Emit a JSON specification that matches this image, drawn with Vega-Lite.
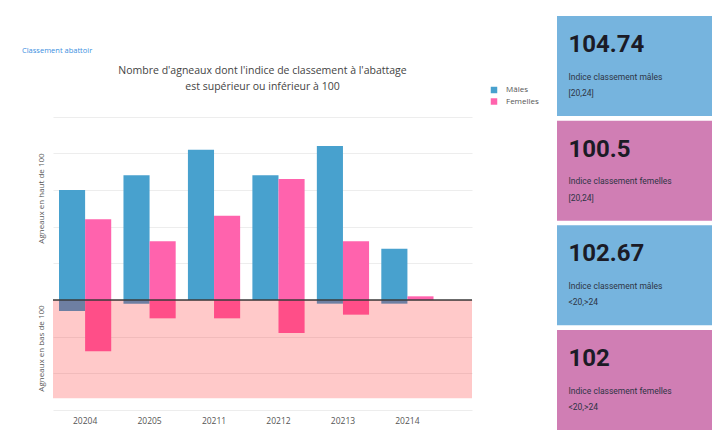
{
  "$schema": "https://vega.github.io/schema/vega-lite/v6.json",
  "background": "white",
  "padding": {"left": 22, "top": 16, "right": 3, "bottom": 4},
  "title": {
    "text": "Classement abattoir",
    "anchor": "start",
    "frame": "group",
    "offset": -46,
    "dx": -31,
    "baseline": "bottom",
    "fontSize": 7.5,
    "font": "Open Sans",
    "fontWeight": "normal",
    "color": "#3b8fe0"
  },
  "bounds": "flush",
  "spacing": 85,
  "hconcat": [
    {
      "width": 419,
      "height": 394,
      "title": {
        "text": ["Nombre d'agneaux dont l'indice de classement à l'abattage", "est supérieur ou inférieur à 100"],
        "anchor": "middle",
        "offset": -86,
        "baseline": "bottom",
        "fontSize": 10.5,
        "font": "Open Sans",
        "fontWeight": "normal",
        "color": "#444444",
        "lineHeight": 16
      },
      "layer": [
        {
          "data": {
            "values": [
              {"periode": "20204", "sexe": "Mâles", "sens": "haut", "n": 30},
              {"periode": "20204", "sexe": "Femelles", "sens": "haut", "n": 22},
              {"periode": "20205", "sexe": "Mâles", "sens": "haut", "n": 34},
              {"periode": "20205", "sexe": "Femelles", "sens": "haut", "n": 16},
              {"periode": "20211", "sexe": "Mâles", "sens": "haut", "n": 41},
              {"periode": "20211", "sexe": "Femelles", "sens": "haut", "n": 23},
              {"periode": "20212", "sexe": "Mâles", "sens": "haut", "n": 34},
              {"periode": "20212", "sexe": "Femelles", "sens": "haut", "n": 33},
              {"periode": "20213", "sexe": "Mâles", "sens": "haut", "n": 42},
              {"periode": "20213", "sexe": "Femelles", "sens": "haut", "n": 16},
              {"periode": "20214", "sexe": "Mâles", "sens": "haut", "n": 14},
              {"periode": "20214", "sexe": "Femelles", "sens": "haut", "n": 1},
              {"periode": "20204", "sexe": "Mâles", "sens": "bas", "n": -3},
              {"periode": "20204", "sexe": "Femelles", "sens": "bas", "n": -14},
              {"periode": "20205", "sexe": "Mâles", "sens": "bas", "n": -1},
              {"periode": "20205", "sexe": "Femelles", "sens": "bas", "n": -5},
              {"periode": "20211", "sexe": "Mâles", "sens": "bas", "n": 0},
              {"periode": "20211", "sexe": "Femelles", "sens": "bas", "n": -5},
              {"periode": "20212", "sexe": "Mâles", "sens": "bas", "n": 0},
              {"periode": "20212", "sexe": "Femelles", "sens": "bas", "n": -9},
              {"periode": "20213", "sexe": "Mâles", "sens": "bas", "n": -1},
              {"periode": "20213", "sexe": "Femelles", "sens": "bas", "n": -4},
              {"periode": "20214", "sexe": "Mâles", "sens": "bas", "n": -1},
              {"periode": "20214", "sexe": "Femelles", "sens": "bas", "n": 0}
            ]
          },
          "mark": {"type": "bar"},
          "encoding": {
            "x": {
              "field": "periode",
              "type": "nominal",
              "sort": null,
              "scale": {"paddingInner": 0.19, "paddingOuter": 0.345, "align": 0.135},
              "axis": {
                "title": null,
                "labelAngle": 0,
                "ticks": false,
                "domain": false,
                "grid": false,
                "labelPadding": 6,
                "labelFontSize": 8.5,
                "labelFont": "Open Sans",
                "labelColor": "#555555"
              }
            },
            "xOffset": {
              "field": "sexe",
              "type": "nominal",
              "sort": ["Mâles", "Femelles"],
              "scale": {"paddingInner": 0, "paddingOuter": 0}
            },
            "y": {
              "field": "n",
              "type": "quantitative",
              "stack": null,
              "scale": {"domain": [-30, 77.45], "nice": false, "zero": false},
              "axis": {
                "orient": "left",
                "title": "Agneaux en haut de 100",
                "titleY": 182,
                "titleX": -8,
                "titleFontSize": 8,
                "titleFont": "Open Sans",
                "titleFontWeight": "normal",
                "titleColor": "#555555",
                "labels": false,
                "ticks": false,
                "domain": false,
                "grid": true,
                "gridColor": "#ededed",
                "values": [-30, -20, -10, 0, 10, 20, 30, 40, 50]
              }
            },
            "color": {
              "field": "sexe",
              "type": "nominal",
              "scale": {"domain": ["Mâles", "Femelles"], "range": ["#48a1ce", "#ff63ad"]},
              "legend": {
                "title": null,
                "orient": "none",
                "legendX": 437,
                "legendY": 70,
                "symbolType": "square",
                "symbolSize": 42,
                "symbolStrokeWidth": 0,
                "labelFontSize": 8,
                "labelFont": "Open Sans",
                "labelColor": "#555555",
                "rowPadding": 3.5,
                "labelOffset": 8
              }
            }
          }
        },
        {
          "data": {"values": [{"bas_min": -26.8, "bas_max": 0}]},
          "mark": {"type": "rect", "color": "#ff0000", "opacity": 0.21},
          "encoding": {
            "y": {
              "field": "bas_min",
              "type": "quantitative",
              "axis": {
                "orient": "left",
                "title": "Agneaux en bas de 100",
                "titleY": 332,
                "titleX": -8,
                "titleFontSize": 8,
                "titleFont": "Open Sans",
                "titleFontWeight": "normal",
                "titleColor": "#555555",
                "labels": false,
                "ticks": false,
                "domain": false,
                "grid": false
              }
            },
            "y2": {"field": "bas_max"}
          }
        },
        {
          "data": {"values": [{"ref": 0}]},
          "mark": {"type": "rule", "color": "#3a3a3a", "strokeWidth": 1.5},
          "encoding": {"y": {"field": "ref", "type": "quantitative", "axis": null}}
        }
      ],
      "resolve": {"axis": {"y": "independent"}}
    },
    {
      "width": 155,
      "height": 414,
      "data": {
        "values": [
          {"carte": "c1", "sexe": "Mâles", "valeur": 104.74, "indice": "Indice classement mâles", "plage": "[20,24]"},
          {"carte": "c2", "sexe": "Femelles", "valeur": 100.5, "indice": "Indice classement femelles", "plage": "[20,24]"},
          {"carte": "c3", "sexe": "Mâles", "valeur": 102.67, "indice": "Indice classement mâles", "plage": "<20,>24"},
          {"carte": "c4", "sexe": "Femelles", "valeur": 102, "indice": "Indice classement femelles", "plage": "<20,>24"}
        ]
      },
      "layer": [
        {
          "mark": {"type": "rect"},
          "encoding": {
            "y": {"field": "carte", "type": "nominal", "sort": null, "scale": {"paddingInner": 0.045, "paddingOuter": 0}, "axis": null},
            "color": {
              "field": "sexe",
              "type": "nominal",
              "scale": {"domain": ["Mâles", "Femelles"], "range": ["#76b4de", "#d07eb4"]},
              "legend": null
            }
          }
        },
        {
          "mark": {"type": "text", "align": "left", "baseline": "alphabetic", "dx": -66, "dy": 36, "font": "Roboto", "fontSize": 24, "fontWeight": "bold", "color": "#1b1b26"},
          "encoding": {
            "y": {"field": "carte", "type": "nominal", "sort": null, "bandPosition": 0, "axis": null},
            "text": {"field": "valeur", "type": "quantitative", "format": "~f"}
          }
        },
        {
          "mark": {"type": "text", "align": "left", "baseline": "middle", "dx": -66, "dy": 60.5, "font": "Roboto", "fontSize": 8.5, "color": "#2e3445"},
          "encoding": {
            "y": {"field": "carte", "type": "nominal", "sort": null, "bandPosition": 0, "axis": null},
            "text": {"field": "indice", "type": "nominal"}
          }
        },
        {
          "mark": {"type": "text", "align": "left", "baseline": "middle", "dx": -66, "dy": 77, "font": "Roboto", "fontSize": 8.5, "color": "#2e3445"},
          "encoding": {
            "y": {"field": "carte", "type": "nominal", "sort": null, "bandPosition": 0, "axis": null},
            "text": {"field": "plage", "type": "nominal"}
          }
        }
      ]
    }
  ],
  "resolve": {"scale": {"color": "independent"}},
  "config": {"view": {"stroke": null}, "font": "Open Sans"}
}
